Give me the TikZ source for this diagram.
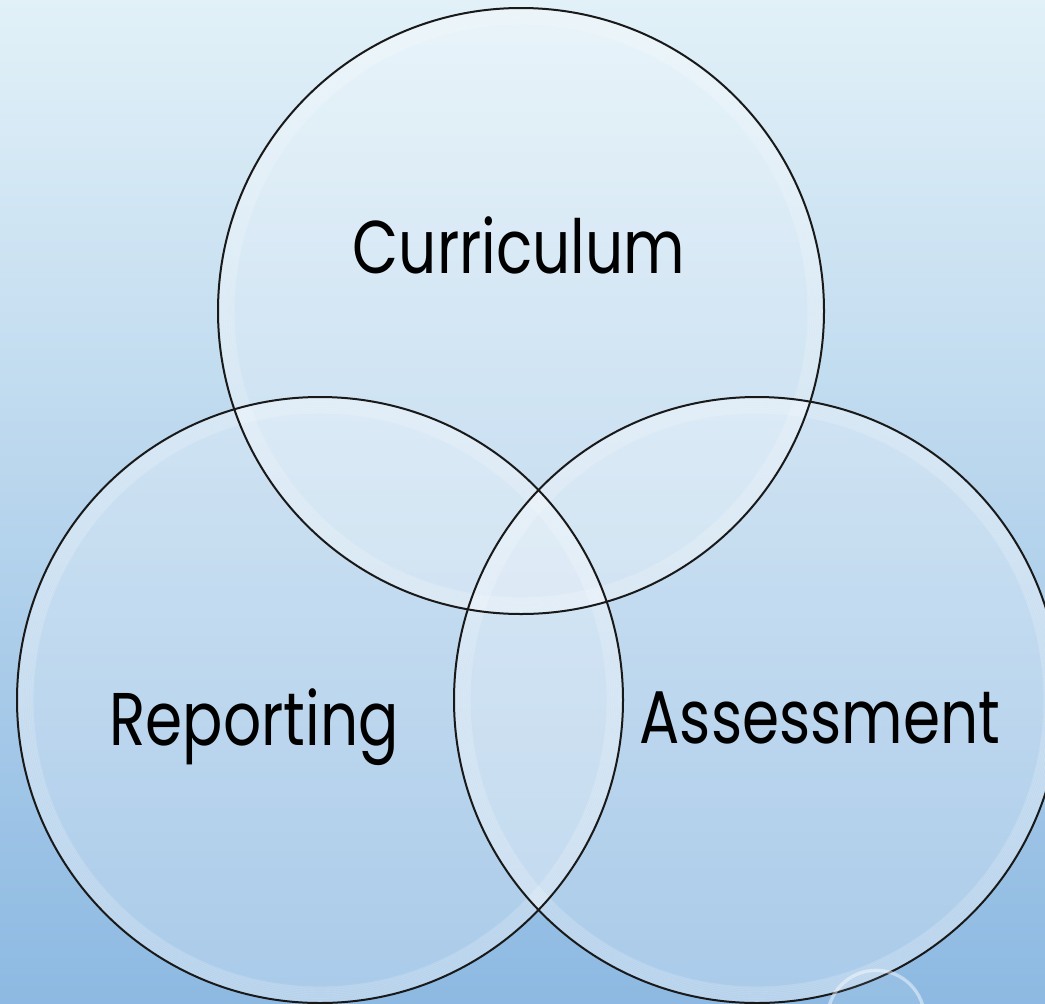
\documentclass[tikz,border=0pt]{standalone}
\usepackage{fontspec}
\setmainfont{Poppins}[FakeStretch=0.8]
\usetikzlibrary{positioning}
\definecolor{skytop}{RGB}{226,241,248}
\definecolor{skybottom}{RGB}{141,185,226}

\begin{document}
\begin{tikzpicture}[x=0.75pt, y=-0.75pt,
  bubble/.style={circle, minimum size=454.5pt, inner sep=0pt, fill=white, fill opacity=0.25},
  venntext/.style={anchor=base, font=\fontsize{56}{60}\selectfont, text=black}]

% page and background
\useasboundingbox (0,0) rectangle (1045,1003);
\clip (0,0) rectangle (1045,1003);
\fill[top color=skytop, bottom color=skybottom] (0,0) rectangle (1045,1003);

% the three circles
\node[bubble] (curriculum) at (521,311) {};
\node[bubble] (reporting) at (320,700) {};
\node[bubble] (assessment) at (757,700) {};

% soft rim inside each circle
\foreach \n in {curriculum,reporting,assessment}
  \foreach \d in {1,...,9}
    \draw[white, opacity=0.16, line width=1.6pt] (\n.center) circle[radius=227.25pt-\d*1.3pt];

% outlines
\foreach \n in {curriculum,reporting,assessment}
  \draw[black!90, line width=1.5pt] (\n.center) circle[radius=227.25pt];

% small drop in the corner
\node[circle, minimum size=73pt, inner sep=0pt, draw=white, draw opacity=0.45, line width=2.5pt,
      fill=white, fill opacity=0.08] (drop) at (876,1019) {};

% labels
\node[venntext] (curtext) at (519,273) {Curriculum};
\node[venntext] (reptext) at (254,745) {Reporting};
\node[venntext] (asstext) at (820,743) {Assessment};

\end{tikzpicture}
\end{document}
